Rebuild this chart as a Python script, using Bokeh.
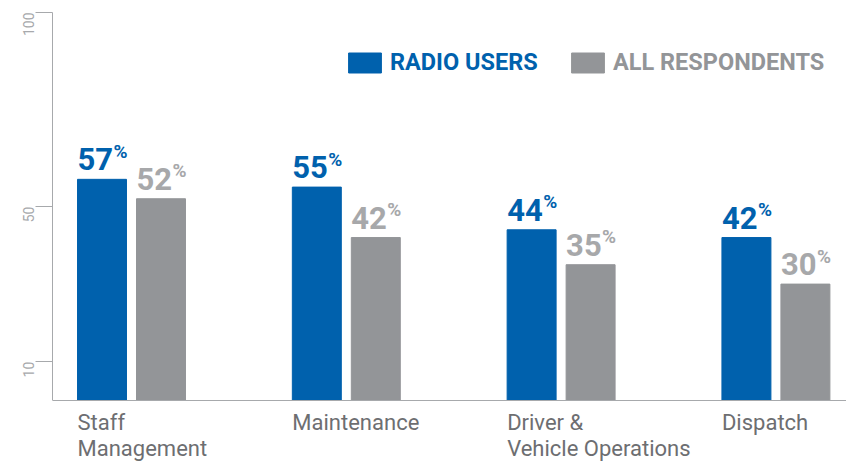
import math
from bokeh.plotting import figure
from bokeh.models import Range1d, LinearAxis, FixedTicker, Span, Legend, LegendItem
from bokeh.core.properties import value
from bokeh.embed import file_html
from bokeh.resources import INLINE

# ---- data ----
categories = ["Staff\nManagement", "Maintenance", "Driver &\nVehicle Operations", "Dispatch"]
radio_users = [57, 55, 44, 42]
all_respondents = [52, 42, 35, 30]
series_names = ["RADIO USERS", "ALL RESPONDENTS"]
y_ticks = [10, 50, 100]

# ---- style ----
BLUE = "#0061ad"
GREY = "#939598"
GREY_TXT = "#a7a8aa"
CAT_TXT = "#6d6e71"
AXIS = "#a7a9ac"
FONT = "Roboto"

half = 0.1373
bw = 0.228
idx = list(range(len(categories)))
x_blue = [i - half for i in idx]
x_grey = [i + half for i in idx]

p = figure(width=846, height=464,
           x_range=Range1d(-0.3678, 3.3286), y_range=Range1d(-16.49, 103.09),
           output_backend="svg", toolbar_location=None,
           x_axis_location=None, y_axis_location=None,
           min_border_left=52, min_border_right=0, min_border_top=0, min_border_bottom=0,
           outline_line_color=None)
p.grid.visible = False

yaxis = LinearAxis(ticker=FixedTicker(ticks=y_ticks), bounds=(0, 100))
yaxis.axis_line_color = AXIS
yaxis.major_tick_line_color = AXIS
yaxis.minor_tick_line_color = None
yaxis.major_tick_out = 17
yaxis.major_tick_in = 0
yaxis.major_label_standoff = 7
yaxis.major_label_orientation = math.pi / 2
yaxis.major_label_text_font = FONT
yaxis.major_label_text_font_size = "14px"
yaxis.major_label_text_color = AXIS
p.add_layout(yaxis, "left")

p.add_layout(Span(location=0, dimension="width", line_color=AXIS, line_width=1))

r1 = p.vbar(x=x_blue, top=radio_users, bottom=0, width=bw, color=BLUE)
r2 = p.vbar(x=x_grey, top=all_respondents, bottom=0, width=bw, color=GREY)

for xs, vals, col in ((x_blue, radio_users, BLUE), (x_grey, all_respondents, GREY_TXT)):
    lx = [x - bw / 2 for x in xs]
    p.text(x=lx, y=vals, text=[str(v) for v in vals], text_font=value(FONT),
           text_font_style="bold", text_font_size="31px", text_color=col,
           text_align="left", text_baseline="alphabetic", y_offset=-20)
    p.text(x=lx, y=vals, text=["%"] * len(vals), text_font=value(FONT),
           text_font_style="bold", text_font_size="19px", text_color=col,
           text_align="left", text_baseline="alphabetic", x_offset=36, y_offset=-28)

p.text(x=[x - bw / 2 for x in x_blue], y=[0] * len(categories), text=categories,
       text_font=value(FONT), text_font_size="22px", text_color=CAT_TXT,
       text_align="left", text_baseline="top", y_offset=9, text_line_height=1.07)

for r, name, col, loc in ((r1, series_names[0], BLUE, (292, 388)),
                          (r2, series_names[1], GREY, (515, 388))):
    leg = Legend(items=[LegendItem(label=name, renderers=[r])], location=loc,
                 glyph_width=41, glyph_height=25, label_standoff=5, label_height=25,
                 label_text_font=FONT, label_text_font_style="bold",
                 label_text_font_size="23.5px", label_text_color=col,
                 padding=0, margin=0, spacing=0, border_line_color=None,
                 background_fill_alpha=0)
    p.add_layout(leg)

open("out.html", "w").write(file_html(p, INLINE))
